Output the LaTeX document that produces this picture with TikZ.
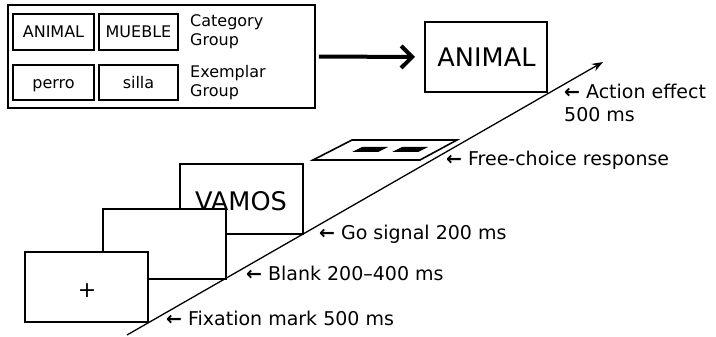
\documentclass[tikz,border=0pt]{standalone}
\usepackage{fontspec}
\setmainfont{DejaVu Sans}
\usetikzlibrary{arrows.meta}
\newcommand{\lblfont}{\fontsize{19}{24}\selectfont}
\newcommand{\boxfont}{\fontsize{16}{19}\selectfont}
\newcommand{\bigfont}{\fontsize{25.6}{30}\selectfont}
\newcommand{\larr}{{\bfseries ←}\hspace{6pt}}
\begin{document}
\begin{tikzpicture}[x=1pt,y=-1pt,
  wordbox/.style={draw,line width=2pt,rectangle,inner sep=0pt,font=\boxfont,text height=12pt,text depth=0pt},
  legendtxt/.style={anchor=west,inner sep=0pt,font=\fontsize{16}{19}\selectfont,align=left},
  screen/.style={draw,line width=2pt,fill=white,rectangle,inner sep=0pt,minimum width=123pt,minimum height=70pt},
  lbl/.style={anchor=base west,inner sep=0pt,font=\lblfont,align=left},
  bigarrow/.style={line width=4pt,-{Straight Barb[length=11pt,width=22pt]}},
  axis/.style={line width=1.3pt,-{Stealth[length=11pt,width=8pt]}}]
\useasboundingbox (0,0) rectangle (716,337);
% legend box
\node[draw,line width=1.6pt,rectangle,inner sep=0pt,minimum width=307pt,minimum height=103pt] (outer) at (161.5,56.5) {};
\node[wordbox,minimum width=81pt,minimum height=36pt] (cat1) at (53.5,32) {ANIMAL};
\node[wordbox,minimum width=79pt,minimum height=36pt] (cat2) at (138.5,32) {MUEBLE};
\node[wordbox,minimum width=81pt,minimum height=35pt] (ex1) at (53.5,82.5) {perro};
\node[wordbox,minimum width=79pt,minimum height=35pt] (ex2) at (138.5,82.5) {silla};
\node[legendtxt] (catlbl) at (190,32) {Category\\Group};
\node[legendtxt] (exlbl) at (190,83) {Exemplar\\Group};
% target box
\node[draw,line width=2pt,rectangle,inner sep=0pt,minimum width=122pt,minimum height=70pt] (target) at (486,57) {};
\node[anchor=base,inner sep=0pt,font=\bigfont] (targettxt) at (486.5,67) {ANIMAL};
\draw[bigarrow] ([xshift=3pt]outer.east) -- ([xshift=-9pt]target.west);
% screens
\node[screen] (go) at (241.5,199) {};
\node[anchor=base,inner sep=0pt,font=\bigfont] (vamos) at (241,210) {VAMOS};
\node[screen] (blank) at (164.5,243.5) {};
\node[screen] (fix) at (86.5,287) {};
\node[font=\fontsize{22}{22}\selectfont,inner sep=0pt] (plus) at (87,291) {+};
% keyboard
\draw[line width=1.6pt,fill=white] (313,160) -- (352,140) -- (457,140) -- (420,160) -- cycle;
\fill (352,152) -- (362,147) -- (388,147) -- (378,152) -- cycle;
\fill (392,152) -- (402,147) -- (428,147) -- (418,152) -- cycle;
% time axis
\coordinate (t0) at (127,335);
\coordinate (t1) at (603,62);
\draw[axis] (t0) -- (t1);
% labels
\node[lbl] (l1) at (166,325) {\larr Fixation mark 500 ms};
\node[lbl] (l2) at (246,280) {\larr Blank 200–400 ms};
\node[lbl] (l3) at (319,239) {\larr Go signal 200 ms};
\node[lbl] (l4) at (446,165) {\larr Free-choice response};
\node[lbl] (l5) at (564,122) {\larr Action effect\\500 ms};
\end{tikzpicture}
\end{document}
